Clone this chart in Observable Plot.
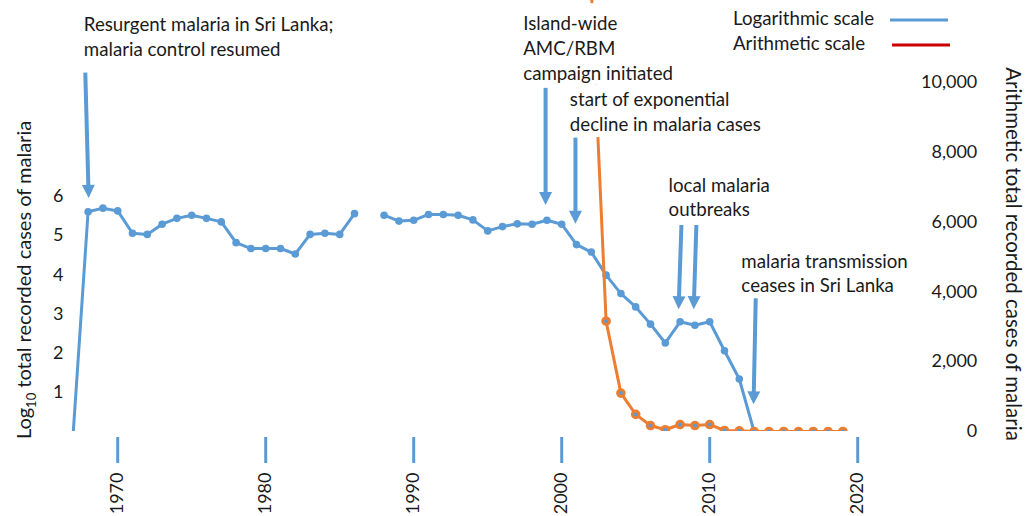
<!DOCTYPE html>
<html>
<head>
<meta charset="utf-8">
<script src="https://cdn.jsdelivr.net/npm/d3@7"></script>
<script src="https://cdn.jsdelivr.net/npm/@observablehq/plot@0.6"></script>
<style>
  body { margin: 0; background: #fff; }
  #chart { width: 1025px; height: 516px; }
</style>
</head>
<body>
<div id="chart"></div>
<script>
// ---- data ----
const logYears = [1967, 1968, 1969, 1970, 1971, 1972, 1973, 1974, 1975, 1976, 1977, 1978, 1979, 1980, 1981, 1982, 1983, 1984, 1985, 1986,
  1987, 1988, 1989, 1990, 1991, 1992, 1993, 1994, 1995, 1996, 1997, 1998, 1999, 2000, 2001, 2002, 2003, 2004, 2005, 2006, 2007,
  2008, 2009, 2010, 2011, 2012, 2013];
const logCases = [0, 5.61, 5.70, 5.63, 5.06, 5.03, 5.29, 5.44, 5.52, 5.44, 5.35, 4.82, 4.67, 4.67, 4.67, 4.53, 5.03, 5.06, 5.03, 5.56,
  null, 5.52, 5.37, 5.39, 5.54, 5.54, 5.52, 5.40, 5.12, 5.23, 5.30, 5.29, 5.39, 5.29, 4.77, 4.58, 3.99, 3.52, 3.18, 2.74, 2.26,
  2.80, 2.71, 2.80, 2.06, 1.34, 0];
const arithYears = [2002, 2003, 2004, 2005, 2006, 2007, 2008, 2009, 2010, 2011, 2012, 2013, 2014, 2015, 2016, 2017, 2018, 2019];
const arithCases = [12700, 3160, 1100, 490, 170, 50, 200, 170, 200, 30, 20, 0, 0, 0, 0, 0, 0, 0];
const yearTicks = [1970, 1980, 1990, 2000, 2010, 2020];
const logTicks = [1, 2, 3, 4, 5, 6];
const arithTicks = [0, 2000, 4000, 6000, 8000, 10000];

// annotations (year, log level)
const noteTexts = [
  "Resurgent malaria in Sri Lanka;\nmalaria control resumed",
  "Island-wide\nAMC/RBM\ncampaign initiated",
  "start of exponential\ndecline in malaria cases",
  "local malaria\noutbreaks",
  "malaria transmission\nceases in Sri Lanka"
];
const noteYears = [1967.71, 1997.40, 2000.55, 2007.22, 2012.14];
const noteLevels = [10.10, 9.82, 8.19, 6.01, 4.07];
const arrowFromYears = [1967.81, 1998.91, 2000.93, 2008.09, 2009.10, 2013.11];
const arrowToYears = [1968.03, 1998.91, 2000.93, 2007.91, 2008.93, 2012.97];
const arrowFromLevels = [9.16, 8.77, 7.50, 5.27, 5.27, 3.40];
const arrowToLevels = [6.09, 5.91, 5.43, 3.25, 3.25, 0.82];
const boxYears1 = [1996.9, 2000.1];
const boxYears2 = [2008.0, 2014.1];
const boxLevels1 = [8.85, 7.50];
const boxLevels2 = [10.92, 8.85];

// ---- derived ----
const BLUE = "#5B9BD5", ORANGE = "#ED7D31", RED = "#CC0000", INK = "#1a1a1a";
const K = 34.9 / 39.18 / 1000; // arithmetic cases -> left-axis units
const logRows = logYears.map((year, i) => ({year, value: logCases[i]}));
const arithRows = arithYears.map((year, i) => ({year, value: arithCases[i] * K}));
const notes = noteTexts.map((label, i) => ({label, year: noteYears[i], level: noteLevels[i]}));
const arrows = arrowFromYears.map((x1, i) => ({x1, x2: arrowToYears[i], y1: arrowFromLevels[i], y2: arrowToLevels[i]}));
const boxes = boxYears1.map((x1, i) => ({x1, x2: boxYears2[i], y1: boxLevels1[i], y2: boxLevels2[i]}));

const plot = Plot.plot({
  width: 1025,
  height: 516,
  marginTop: 0,
  marginBottom: 85,
  marginLeft: 58,
  marginRight: 138.2,
  style: {fontFamily: "Lato, sans-serif", fontSize: "18px", color: INK, background: "white"},
  x: {domain: [1966, 2022], label: null},
  y: {domain: [0, 11], label: null},
  marks: [
    Plot.axisX(yearTicks, {tickSize: 26, dy: 6, stroke: BLUE, strokeWidth: 3, tickFormat: () => "", label: null}),
    Plot.axisX(yearTicks, {tickSize: 0, tickRotate: -90, tickPadding: 41, textAnchor: "end", lineAnchor: "middle",
      tickFormat: d => String(d), fill: INK, label: null}),
    Plot.axisY(logTicks, {anchor: "left", tickSize: 0, tickPadding: 0, dx: 5, fill: INK, label: null}),
    Plot.axisY(arithTicks.map(c => c * K), {anchor: "right", tickSize: 0, tickPadding: 90, textAnchor: "end",
      tickFormat: v => d3.format(",")(Math.round(v / K)), fill: INK, label: null}),
    Plot.line(logRows, {x: "year", y: "value", stroke: BLUE, strokeWidth: 3, clip: true}),
    Plot.dot(logRows.filter(d => d.year > 1967 && d.value != null), {x: "year", y: "value", r: 3.8, fill: BLUE, clip: true}),
    Plot.line(arithRows, {x: "year", y: "value", stroke: ORANGE, strokeWidth: 3, clip: true}),
    Plot.dot(arithRows, {x: "year", y: "value", r: 4.8, fill: ORANGE, clip: true}),
    Plot.dot(arithRows, {x: "year", y: "value", r: 2, fill: BLUE, clip: true}),
    Plot.rect(boxes, {x1: "x1", x2: "x2", y1: "y1", y2: "y2", fill: "white"}),
    Plot.text(notes, {x: "year", y: "level", text: "label", textAnchor: "start", lineAnchor: "middle",
      lineHeight: 1.33, fontSize: 18.7, fill: INK}),
    Plot.link(arrows, {x1: "x1", y1: "y1", x2: "x2", y2: "y2", stroke: BLUE, strokeWidth: 4})
  ]
});

const svg = d3.select(plot);
const defs = svg.append("defs");
defs.append("marker")
  .attr("id", "arrowhead")
  .attr("markerUnits", "userSpaceOnUse")
  .attr("viewBox", "-12 -10 24 20")
  .attr("markerWidth", 24).attr("markerHeight", 20)
  .attr("refX", 0).attr("refY", 0)
  .attr("orient", "auto")
  .append("path").attr("d", "M5,0L-8,-6.5L-8,6.5Z").attr("fill", BLUE);
svg.selectAll('g[aria-label="link"] path').attr("marker-end", "url(#arrowhead)");

// axis titles
const lt = svg.append("text")
  .attr("transform", "translate(24,280) rotate(-90)")
  .attr("text-anchor", "middle").attr("dy", "0.35em")
  .attr("fill", INK).style("font-size", "20px");
lt.append("tspan").text("Log");
lt.append("tspan").attr("font-size", "13px").attr("dy", "5").text("10");
lt.append("tspan").attr("dy", "-5").text(" total recorded cases of malaria");

svg.append("text")
  .attr("transform", "translate(1013,254) rotate(90)")
  .attr("text-anchor", "middle").attr("dy", "0.35em")
  .attr("fill", INK).style("font-size", "20.5px")
  .text("Arithmetic total recorded cases of malaria");

// legend
const lg = svg.append("g").style("font-size", "18.7px").attr("fill", INK).attr("text-anchor", "start");
lg.append("text").attr("x", 733).attr("y", 18).attr("dy", "0.35em").text("Logarithmic scale");
lg.append("line").attr("x1", 890).attr("x2", 948).attr("y1", 20).attr("y2", 20).attr("stroke", BLUE).attr("stroke-width", 3);
lg.append("text").attr("x", 733).attr("y", 43).attr("dy", "0.35em").text("Arithmetic scale");
lg.append("line").attr("x1", 892).attr("x2", 950).attr("y1", 45).attr("y2", 45).attr("stroke", RED).attr("stroke-width", 3);

document.getElementById("chart").appendChild(plot);
</script>
</body>
</html>
